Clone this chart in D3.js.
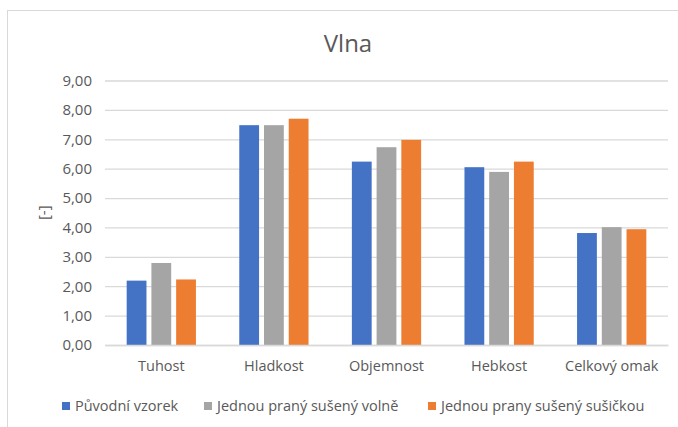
<!DOCTYPE html>
<html>
<head>
<meta charset="utf-8">
<script src="https://cdn.jsdelivr.net/npm/d3@7"></script>
<style>
  html, body { margin: 0; padding: 0; background: #fff; }
  svg { display: block; font-family: "Open Sans", "Noto Sans", sans-serif; }
</style>
</head>
<body>
<svg id="chart" width="678" height="427"></svg>
<script>
// Wool fabric hand evaluation
const title = "Vlna";
const categories = ["Tuhost", "Hladkost", "Objemnost", "Hebkost", "Celkový omak"];
const seriesNames = ["Původní vzorek", "Jednou praný sušený volně", "Jednou prany sušený sušičkou"];
const puvodni = [2.19, 7.48, 6.24, 6.05, 3.81];
const praneVolne = [2.79, 7.48, 6.73, 5.89, 4.01];
const praneSusicka = [2.23, 7.70, 6.98, 6.24, 3.94];
const yTicks = [0, 1, 2, 3, 4, 5, 6, 7, 8, 9];
const yLabel = "[-]";
const colors = ["#4472C4", "#A5A5A5", "#ED7D31"];

const seriesValues = [puvodni, praneVolne, praneSusicka];
const fmt = v => d3.format(".2f")(v).replace(".", ",");

const svg = d3.select("#chart");
const plot = { left: 105, right: 668, top: 80.5, bottom: 345 };

// outer chart frame
svg.append("rect")
  .attr("x", 7.5).attr("y", 10.5)
  .attr("width", 700).attr("height", 460)
  .attr("fill", "#fff").attr("stroke", "#D9D9D9").attr("stroke-width", 1);

const y = d3.scaleLinear().domain([0, 9]).range([plot.bottom, plot.top]);
const x0 = d3.scaleBand().domain(categories).range([plot.left, plot.right])
  .paddingInner(0.385).paddingOuter(0.1925);
const x1 = d3.scaleBand().domain(d3.range(seriesNames.length))
  .range([0, x0.bandwidth()]).paddingInner(0.2);

// gridlines + tick labels
const yAxis = d3.axisLeft(y).tickValues(yTicks).tickFormat(fmt)
  .tickSize(-(plot.right - plot.left)).tickPadding(13);
const ga = svg.append("g").attr("transform", `translate(${plot.left},0)`).call(yAxis);
ga.select(".domain").remove();
ga.selectAll(".tick line").attr("stroke", "#D9D9D9").attr("stroke-width", 1.3);
ga.selectAll(".tick text").attr("fill", "#595959").attr("font-size", 15)
  .attr("font-family", "'Open Sans', sans-serif");

// bars
const groups = svg.append("g").selectAll("g")
  .data(categories).join("g")
  .attr("transform", d => `translate(${x0(d)},0)`);
groups.selectAll("rect")
  .data((d, i) => seriesValues.map((s, k) => ({ k, v: s[i] })))
  .join("rect")
  .attr("x", d => x1(d.k))
  .attr("width", x1.bandwidth())
  .attr("y", d => y(d.v))
  .attr("height", d => y(0) - y(d.v))
  .attr("fill", d => colors[d.k]);

// category axis
const xAxis = d3.axisBottom(x0).tickSize(0).tickPadding(16);
const gx = svg.append("g").attr("transform", `translate(0,${plot.bottom})`).call(xAxis);
gx.select(".domain").attr("stroke", "#D9D9D9").attr("stroke-width", 1.3);
gx.selectAll(".tick text").attr("fill", "#595959").attr("font-size", 14.5)
  .attr("font-family", "'Open Sans', sans-serif");

// title
svg.append("text").attr("x", 348).attr("y", 52)
  .attr("text-anchor", "middle").attr("fill", "#595959")
  .attr("font-size", 24).text(title);

// y-axis title
svg.append("text")
  .attr("transform", `translate(49,${(plot.top + plot.bottom) / 2}) rotate(-90)`)
  .attr("text-anchor", "middle").attr("fill", "#595959")
  .attr("font-size", 15).text(yLabel);

// legend
const legendX = [62, 204, 428];
const lg = svg.append("g").selectAll("g").data(seriesNames).join("g")
  .attr("transform", (d, i) => `translate(${legendX[i]},402)`);
lg.append("rect").attr("width", 8).attr("height", 8).attr("fill", (d, i) => colors[i]);
lg.append("text").attr("x", 13).attr("y", 8.5).attr("fill", "#595959")
  .attr("font-size", 14.5).text(d => d);
</script>
</body>
</html>
